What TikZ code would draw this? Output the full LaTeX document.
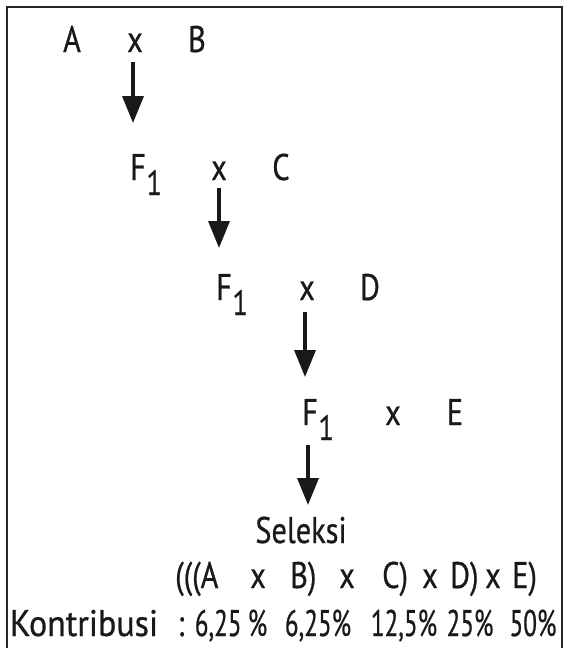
\documentclass[tikz,border=0pt]{standalone}
\usepackage{fontspec}
\setmainfont{PT Sans}[FakeStretch=0.82,FakeBold=0.6]
\newfontfamily\numfont{PT Sans}[FakeStretch=0.68,FakeBold=0.6]
\usetikzlibrary{arrows.meta}
\newcommand\Fone{F\kern0.5pt\raisebox{-15pt}{\fontsize{35}{35}\selectfont 1}}
\begin{document}
\begin{tikzpicture}[x=1pt,y=-1pt,
  lbl/.style={inner sep=0pt, anchor=base, font=\fontsize{37}{40}\selectfont, text=black!90},
  lblw/.style={lbl, anchor=base west},
  num/.style={lbl, font=\fontsize{37}{40}\selectfont\numfont},
  arr/.style={line width=3.5pt, draw=black!90, -{Triangle[width=21pt,length=27pt]}},
  frame/.style={line width=1.8pt, draw=black!85}]
\useasboundingbox (0,0) rectangle (564,648);
\draw[frame] (7,650) -- (7,7) -- (562,7) -- (562,650);
% row 1
\node[lbl] (A) at (72,52) {A};
\node[lbl] (x1) at (135,52) {x};
\node[lbl] (B) at (197,52) {B};
% row 2
\node[lblw] (F2) at (130,180) {\Fone};
\node[lbl] (x2) at (219,180) {x};
\node[lbl] (C) at (281,180) {C};
% row 3
\node[lblw] (F3) at (216,300) {\Fone};
\node[lbl] (x3) at (307,300) {x};
\node[lbl] (D) at (370,300) {D};
% row 4
\node[lblw] (F4) at (302,425) {\Fone};
\node[lbl] (x4) at (393,425) {x};
\node[lbl] (E) at (455,425) {E};
% selection
\node[lbl] (sel) at (301,543) {Seleksi};
% row 5
\node[lblw] (p1) at (175,588) {(((A};
\node[lbl]  (p2) at (258,588) {x};
\node[lblw] (p3) at (290,588) {B)};
\node[lbl]  (p4) at (347,588) {x};
\node[lblw] (p5) at (382,588) {C)};
\node[lbl]  (p6) at (430,588) {x};
\node[lblw] (p7) at (450,588) {D)};
\node[lbl]  (p8) at (493,588) {x};
\node[lblw] (p9) at (512,588) {E)};
% row 6
\node[lbl]  (k0) at (84,636) {\scalebox{1.12}[1]{Kontribusi}};
\node[lbl]  (k1) at (181,636) {:};
\node[num]  (k2) at (231,636) {6,25\,\%};
\node[num]  (k3) at (318,636) {6,25\%};
\node[num]  (k4) at (404,636) {12,5\%};
\node[num]  (k5) at (470,636) {25\%};
\node[num]  (k6) at (533,636) {50\%};
% arrows
\coordinate (t1) at (133,123);
\coordinate (t2) at (219,248);
\coordinate (t3) at (305,377);
\coordinate (t4) at (308,505);
\draw[arr, shorten <=10pt] (x1.south -| t1) -- (t1);
\draw[arr, shorten <=8pt] (x2.south -| t2) -- (t2);
\draw[arr, shorten <=12pt] (x3.south -| t3) -- (t3);
\draw[arr, shorten <=5pt] (F4.south -| t4) -- (t4);
\end{tikzpicture}
\end{document}
